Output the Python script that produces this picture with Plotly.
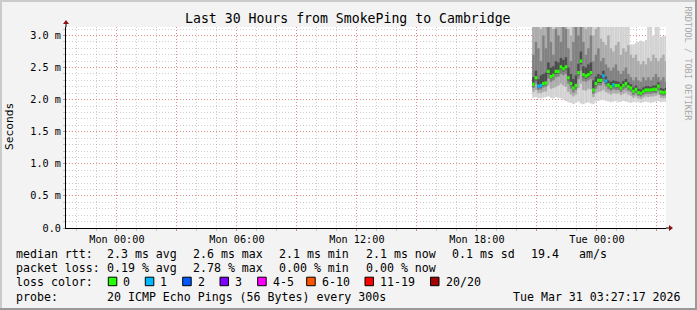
import plotly.graph_objects as go
import pandas as pd

# ---------------- data ----------------
start_time = pd.Timestamp("2026-03-30 20:49:30")
step_minutes = 7.5
range_start = "2026-03-29 21:27:17"
range_end = "2026-03-31 03:27:17"

median_ms = [2.24, 2.34, 2.21, 2.22, 2.25, 2.26, 2.44, 2.36, 2.38, 2.44,
             2.44, 2.51, 2.48, 2.51, 2.34, 2.25, 2.18, 2.22, 2.42, 2.60,
             2.39, 2.37, 2.39, 2.42, 2.15, 2.25, 2.30, 2.30, 2.37, 2.29,
             2.23, 2.20, 2.23, 2.22, 2.22, 2.18, 2.22, 2.25, 2.20, 2.18,
             2.13, 2.16, 2.11, 2.10, 2.13, 2.15, 2.15, 2.15, 2.16, 2.16,
             2.21, 2.12, 2.11, 2.12]
loss_count = [0, 0, 1, 1, 0, 0, 0, 0, 0, 0,
              0, 0, 0, 0, 0, 0, 0, 0, 0, 0,
              0, 0, 0, 0, 0, 0, 0, 0, 1, 1,
              0, 0, 1, 0, 0, 0, 0, 0, 0, 0,
              0, 0, 0, 0, 0, 0, 0, 0, 0, 0,
              0, 0, 0, 0]
ping_min = [2.03, 2.04, 2.02, 2.02, 2.03, 2.04, 2.05, 2.03, 2.02, 2.04,
            2.03, 2.02, 2.00, 1.98, 1.96, 1.95, 1.93, 1.95, 1.97, 1.94,
            1.93, 1.95, 1.96, 1.94, 1.93, 1.97, 1.98, 1.99, 2.00, 1.98,
            1.97, 1.96, 1.97, 1.98, 1.96, 1.97, 1.98, 1.97, 1.96, 1.95,
            1.96, 1.97, 1.96, 1.95, 1.96, 1.97, 1.96, 1.95, 1.96, 1.97,
            1.98, 1.96, 1.97, 1.96]
ping_max = [3.30, 3.30, 3.30, 3.30, 3.30, 3.30, 3.30, 3.30, 3.30, 3.30,
            3.30, 3.30, 3.30, 3.30, 3.30, 3.30, 3.30, 3.30, 3.30, 3.30,
            3.30, 3.30, 3.30, 3.30, 3.30, 3.30, 3.30, 3.30, 3.30, 3.30,
            3.30, 3.30, 3.30, 3.30, 3.30, 3.30, 3.30, 3.30, 3.30, 2.86,
            2.86, 2.88, 2.90, 2.92, 2.90, 2.93, 3.30, 3.30, 3.00, 3.30,
            3.30, 2.98, 2.99, 3.00]
ping_p15 = [2.12, 2.15, 2.10, 2.10, 2.12, 2.13, 2.22, 2.17, 2.18, 2.20,
            2.22, 2.25, 2.22, 2.20, 2.12, 2.08, 2.05, 2.08, 2.18, 2.25,
            2.15, 2.14, 2.17, 2.16, 2.04, 2.10, 2.12, 2.13, 2.15, 2.12,
            2.10, 2.08, 2.10, 2.09, 2.10, 2.07, 2.09, 2.11, 2.08, 2.06,
            2.03, 2.05, 2.02, 2.01, 2.03, 2.05, 2.04, 2.05, 2.05, 2.06,
            2.08, 2.03, 2.02, 2.03]
ping_p85 = [3.20, 3.30, 3.30, 3.10, 3.30, 3.20, 3.30, 3.30, 3.10, 3.30,
            3.30, 3.20, 3.30, 3.30, 3.10, 3.00, 3.20, 3.30, 3.30, 3.30,
            3.30, 3.10, 3.20, 3.30, 3.00, 3.10, 3.20, 2.95, 2.90, 2.85,
            3.00, 2.80, 2.75, 2.85, 2.90, 2.70, 2.80, 2.75, 2.85, 2.70,
            2.65, 2.70, 2.60, 2.55, 2.60, 2.55, 2.65, 2.60, 2.70, 2.65,
            2.60, 2.65, 2.70, 2.60]
ping_p30 = [2.18, 2.25, 2.15, 2.16, 2.19, 2.20, 2.33, 2.28, 2.30, 2.35,
            2.36, 2.40, 2.38, 2.40, 2.25, 2.17, 2.11, 2.15, 2.32, 2.45,
            2.29, 2.28, 2.30, 2.32, 2.09, 2.17, 2.22, 2.22, 2.28, 2.21,
            2.16, 2.14, 2.16, 2.15, 2.15, 2.12, 2.15, 2.18, 2.14, 2.12,
            2.07, 2.10, 2.06, 2.05, 2.07, 2.09, 2.09, 2.09, 2.10, 2.10,
            2.14, 2.07, 2.06, 2.07]
ping_p70 = [2.70, 2.90, 2.80, 2.60, 3.00, 2.80, 3.20, 2.90, 2.70, 3.10,
            3.00, 2.90, 3.20, 3.10, 2.80, 2.60, 2.90, 3.20, 3.00, 3.30,
            2.90, 2.70, 2.80, 3.00, 2.60, 2.70, 2.80, 2.60, 2.65, 2.55,
            2.50, 2.45, 2.50, 2.55, 2.45, 2.40, 2.45, 2.50, 2.40, 2.35,
            2.30, 2.35, 2.30, 2.28, 2.35, 2.30, 2.35, 2.30, 2.35, 2.40,
            2.35, 2.30, 2.35, 2.28]
ping_p45 = [2.21, 2.30, 2.18, 2.19, 2.22, 2.23, 2.40, 2.33, 2.35, 2.40,
            2.41, 2.47, 2.44, 2.47, 2.30, 2.22, 2.15, 2.19, 2.38, 2.55,
            2.35, 2.33, 2.35, 2.38, 2.12, 2.21, 2.26, 2.26, 2.33, 2.25,
            2.20, 2.17, 2.20, 2.19, 2.19, 2.15, 2.19, 2.22, 2.17, 2.15,
            2.10, 2.13, 2.08, 2.07, 2.10, 2.12, 2.12, 2.12, 2.13, 2.13,
            2.18, 2.09, 2.08, 2.09]
ping_p55 = [2.35, 2.45, 2.32, 2.38, 2.40, 2.42, 2.58, 2.50, 2.52, 2.60,
            2.58, 2.65, 2.62, 2.66, 2.50, 2.40, 2.32, 2.38, 2.56, 2.75,
            2.52, 2.50, 2.55, 2.58, 2.30, 2.36, 2.40, 2.38, 2.45, 2.36,
            2.30, 2.28, 2.30, 2.29, 2.28, 2.25, 2.29, 2.32, 2.27, 2.24,
            2.19, 2.22, 2.17, 2.16, 2.19, 2.21, 2.21, 2.20, 2.22, 2.22,
            2.27, 2.18, 2.17, 2.18]

y_tick_vals = [0, 0.5, 1.0, 1.5, 2.0, 2.5, 3.0]
y_tick_text = ["0.0", "0.5 m", "1.0 m", "1.5 m", "2.0 m", "2.5 m", "3.0 m"]
x_tick_vals = ["2026-03-30 00:00", "2026-03-30 03:00", "2026-03-30 06:00",
               "2026-03-30 09:00", "2026-03-30 12:00", "2026-03-30 15:00",
               "2026-03-30 18:00", "2026-03-30 21:00", "2026-03-31 00:00",
               "2026-03-31 03:00"]
x_tick_text = ["Mon 00:00", "", "Mon 06:00", "", "Mon 12:00", "",
               "Mon 18:00", "", "Tue 00:00", ""]

loss_labels = ["0", "1", "2", "3", "4-5", "6-10", "11-19", "20/20"]
loss_colors = ["#26ff00", "#00b8ff", "#0059ff", "#7e00ff",
               "#ff00ff", "#ff5500", "#ff0000", "#a00000"]

title_text = "Last 30 Hours from SmokePing to Cambridge"
row1 = [("median rtt:", 16), ("2.3 ms avg", 107.3), ("2.6 ms max", 193.3),
        ("2.1 ms min", 279.3), ("2.1 ms now", 366), ("0.1 ms sd", 451.7),
        ("19.4", 530.7), ("am/s", 579.3)]
row2 = [("packet loss:", 16), ("0.19 % avg", 107.3), ("2.78 % max", 193.3),
        ("0.00 % min", 279.3), ("0.00 % now", 366)]
row4 = [("probe:", 16), ("20 ICMP Echo Pings (56 Bytes) every 300s", 107.3),
        ("Tue Mar 31 03:27:17 2026", 513.3)]
loss_box_x = [108.3, 145.3, 182.7, 220, 257.7, 306.7, 365, 430.5]

# ---------------- geometry ----------------
W, H = 697, 310
ML, MR, MT, MB = 66, 31, 27, 82
PW, PH = W - ML - MR, H - MT - MB


def xp(px):
    return (px - ML) / PW


def yp(py):
    return (H - MB - py) / PH


MONO = "DejaVu Sans Mono"
times = [start_time + pd.Timedelta(minutes=step_minutes * i) for i in range(len(median_ms))]
bar_w = step_minutes * 60 * 1000

fig = go.Figure()


def band(lo, hi, color):
    fig.add_trace(go.Bar(
        x=times, base=lo, y=[h - l for l, h in zip(lo, hi)], width=bar_w,
        marker=dict(color=color, line=dict(width=0)), hoverinfo="skip",
        showlegend=False))


band(ping_min, ping_max, "#d2d2d2")
band(ping_p15, ping_p85, "#ababab")
band(ping_p30, ping_p70, "#818181")
band(ping_p45, ping_p55, "#4c4c4c")

med_h = 0.052
fig.add_trace(go.Bar(
    x=times, base=[m - med_h / 2 for m in median_ms], y=[med_h] * len(median_ms),
    width=bar_w,
    marker=dict(color=[loss_colors[c] for c in loss_count], line=dict(width=0)),
    hoverinfo="skip", showlegend=False))

red_grid = "rgba(255,0,0,0.32)"
grey_grid = "rgba(140,140,140,0.42)"

fig.update_layout(
    width=W, height=H, margin=dict(l=ML, r=MR, t=MT, b=MB),
    paper_bgcolor="#f3f3f3", plot_bgcolor="#ffffff",
    barmode="overlay", showlegend=False,
    font=dict(family=MONO, color="#000000", size=10.2),
    xaxis=dict(
        type="date", range=[range_start, range_end],
        tickmode="array", tickvals=x_tick_vals, ticktext=x_tick_text,
        showgrid=True, gridcolor=red_grid, griddash="1px,2px", gridwidth=1,
        showline=True, linecolor="#000000", linewidth=1,
        ticks="outside", ticklen=2, tickcolor=red_grid,
        tickfont=dict(family=MONO, size=10.2, color="#000000"),
        minor=dict(dtick=3600000, tick0="2026-03-30 00:00", showgrid=True,
                   gridcolor=grey_grid, griddash="1px,2px", gridwidth=1,
                   ticks="outside", ticklen=2, tickcolor=grey_grid),
        zeroline=False, fixedrange=True,
    ),
    yaxis=dict(
        range=[0, PH / 64.17], tickmode="array",
        tickvals=y_tick_vals, ticktext=y_tick_text,
        showgrid=True, gridcolor=red_grid, griddash="1px,2px", gridwidth=1,
        showline=True, linecolor="#000000", linewidth=1,
        ticks="outside", ticklen=2, tickcolor=red_grid,
        tickfont=dict(family=MONO, size=10.2, color="#000000"),
        minor=dict(dtick=0.1, tick0=0, showgrid=True,
                   gridcolor=grey_grid, griddash="1px,2px", gridwidth=1,
                   ticks="outside", ticklen=2, tickcolor=grey_grid),
        zeroline=False, fixedrange=True,
    ),
)

ann = []
shapes = []


def text(t, px, py, size=11.6, color="#000000", xanchor="left", angle=0, yanchor="middle"):
    ann.append(dict(text=t, x=xp(px), y=yp(py), xref="paper", yref="paper",
                    xanchor=xanchor, yanchor=yanchor, showarrow=False,
                    textangle=angle, borderpad=0,
                    font=dict(family=MONO, size=size, color=color)))


text(title_text, 348, 19, size=13.2, xanchor="center")
text("Seconds", 10, 127, size=11.2, xanchor="center", angle=-90)
text("RRDTOOL / TOBI OETIKER", 688, 5, size=8.6, color="#aaaaaa",
     xanchor="center", angle=90, yanchor="top")

for t, px in row1:
    text(t, px - 1, 254)
for t, px in row2:
    text(t, px - 1, 268)
text("loss color:", 15, 281.5)
for lbl, col, bx in zip(loss_labels, loss_colors, loss_box_x):
    shapes.append(dict(type="rect", xref="paper", yref="paper",
                       x0=xp(bx), x1=xp(bx + 8.5), y0=yp(277.2), y1=yp(285.7),
                       fillcolor=col, line=dict(color="#000000", width=1)))
    text(lbl, bx + 14, 281.5)
for t, px in row4:
    text(t, px - 1, 296.5)

# frame
shapes += [
    dict(type="rect", xref="paper", yref="paper", x0=xp(0), x1=xp(W), y0=yp(0), y1=yp(2),
         fillcolor="#cbcbcb", line=dict(width=0)),
    dict(type="rect", xref="paper", yref="paper", x0=xp(0), x1=xp(2), y0=yp(0), y1=yp(H),
         fillcolor="#cbcbcb", line=dict(width=0)),
    dict(type="rect", xref="paper", yref="paper", x0=xp(0), x1=xp(W), y0=yp(H - 2), y1=yp(H),
         fillcolor="#999999", line=dict(width=0)),
    dict(type="rect", xref="paper", yref="paper", x0=xp(W - 2), x1=xp(W), y0=yp(0), y1=yp(H),
         fillcolor="#999999", line=dict(width=0)),
]
# axis arrows
shapes += [
    dict(type="line", xref="paper", yref="paper", xsizemode="pixel", ysizemode="pixel",
         xanchor=1, yanchor=0, x0=0, x1=4, y0=0, y1=0,
         line=dict(color="#000000", width=1)),
    dict(type="path", xref="paper", yref="paper", xsizemode="pixel", ysizemode="pixel",
         xanchor=1, yanchor=0, path="M 3,-3 L 7,0 L 3,3 Z",
         fillcolor="#8b1010", line=dict(width=0)),
    dict(type="line", xref="paper", yref="paper", xsizemode="pixel", ysizemode="pixel",
         xanchor=0, yanchor=1, x0=0, x1=0, y0=0, y1=4,
         line=dict(color="#000000", width=1)),
    dict(type="path", xref="paper", yref="paper", xsizemode="pixel", ysizemode="pixel",
         xanchor=0, yanchor=1, path="M -3,3 L 0,7 L 3,3 Z",
         fillcolor="#8b1010", line=dict(width=0)),
]

fig.update_layout(annotations=ann, shapes=shapes)
fig.write_html("out.html")
